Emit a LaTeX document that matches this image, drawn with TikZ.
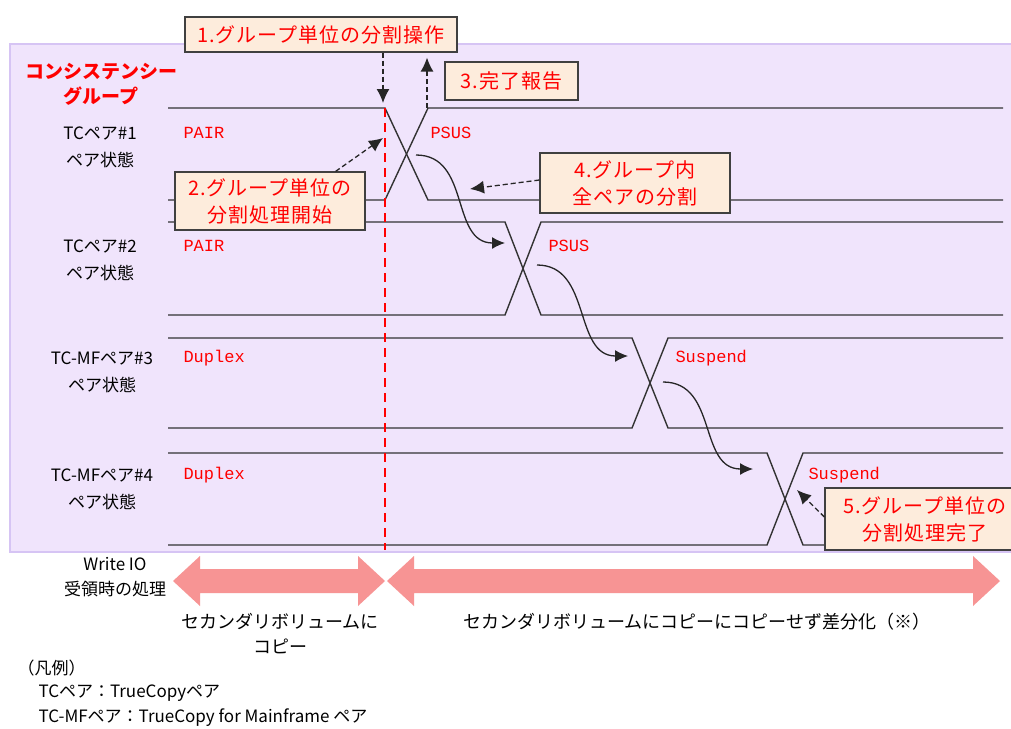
\documentclass[tikz,border=0pt]{standalone}
\usepackage{fontspec}
\setmainfont{Noto Sans CJK JP}
\newfontfamily\notefont{Noto Sans CJK JP}[LetterSpace=5]
\newfontfamily\statefont{Liberation Mono}
\usetikzlibrary{arrows.meta}
\definecolor{groupbg}{RGB}{240,228,252}
\definecolor{groupline}{RGB}{214,196,244}
\definecolor{notefill}{RGB}{253,236,220}
\definecolor{wayarrow}{RGB}{247,148,148}
\tikzset{
  note/.style={draw=black!75, line width=1.2pt, fill=notefill, text=red, align=center,
    font=\notefont\fontsize{20}{27}\selectfont, inner sep=0pt},
  pairline/.style={draw=black!80, line width=1.4pt},
  state/.style={anchor=west, text=red, font=\statefont\fontsize{17}{18}\selectfont},
  rowlabel/.style={align=center, font=\fontsize{17}{27}\selectfont},
  dasharrow/.style={draw=black!85, line width=1.3pt, dash pattern=on 5pt off 3pt,
    -{Latex[length=14pt,width=13pt]}},
  flow/.style={draw=black!85, line width=1.3pt, -{Latex[length=13pt,width=12pt]}}
}
\begin{document}
\begin{tikzpicture}[x=1pt,y=-1pt]
\useasboundingbox (0,0) rectangle (1011,728);
\fill[white] (0,0) rectangle (1011,728);
% consistency group area
\draw[groupline, fill=groupbg, line width=1.5pt] (10,44) rectangle (1030,552);
\node[align=center, text=red, font=\bfseries\fontsize{19}{25}\selectfont] (group) at (101,84) {コンシステンシー\\グループ};
% pair states
\foreach \ytop/\ybot/\xa/\xb in {108/200/385/428, 222/315/505/541, 338/428/632/668, 453/545/767/803}{
  \draw[pairline] (168,\ytop) -- (\xa,\ytop) -- (\xb,\ybot) -- (1003,\ybot);
  \draw[pairline] (168,\ybot) -- (\xa,\ybot) -- (\xb,\ytop) -- (1003,\ytop);
}
\node[rowlabel] (row1) at (100,147) {TCペア\#1\\ペア状態};
\node[rowlabel] (row2) at (100,260) {TCペア\#2\\ペア状態};
\node[rowlabel] (row3) at (102,372) {TC-MFペア\#3\\ペア状態};
\node[rowlabel] (row4) at (102,489) {TC-MFペア\#4\\ペア状態};
\node[state] (s1a) at (180,133) {PAIR};
\node[state] (s1b) at (427,133) {PSUS};
\node[state] (s2a) at (180,246) {PAIR};
\node[state] (s2b) at (545,246) {PSUS};
\node[state] (s3a) at (180,358) {Duplex};
\node[state] (s3b) at (672,358) {Suspend};
\node[state] (s4a) at (180,475) {Duplex};
\node[state] (s4b) at (805,475) {Suspend};
% split point
\draw[red, line width=1.5pt, dash pattern=on 9pt off 6pt] (385,108) -- (385,550);
% split goes from pair to pair
\coordinate (f1) at (416,155);
\coordinate (f2) at (505,243);
\coordinate (g2) at (537,265);
\coordinate (f3) at (628,356);
\coordinate (g3) at (663,382);
\coordinate (f4) at (753,469);
\foreach \a/\b in {f1/f2, g2/f3, g3/f4}
  \draw[flow] (\a) .. controls +(55,0) and +(-55,0) .. (\b);
% notes
\node[note, minimum width=272pt, minimum height=35pt] (splitop) at (321,34.5) {1.グループ単位の分割操作};
\node[note, minimum width=133pt, minimum height=38pt] (report) at (511.5,81) {3.完了報告};
\node[note, minimum width=190pt, minimum height=58pt] (splitstart) at (270,201) {2.グループ単位の\\分割処理開始};
\node[note, minimum width=190pt, minimum height=60pt] (allsplit) at (635,183) {4.グループ内\\全ペアの分割};
\node[note, minimum width=200pt, minimum height=62pt] (splitend) at (925,519) {5.グループ単位の\\分割処理完了};
\coordinate (t1) at (383,103);
\coordinate (r1) at (427,108);
\coordinate (t2) at (383,138);
\coordinate (t4) at (470,189);
\coordinate (t5) at (797,490);
\draw[dasharrow] (splitop.south -| t1) -- (t1);
\draw[dasharrow, shorten >=5pt] (r1) -- (r1 |- splitop.south);
\draw[dasharrow] ([xshift=-30pt]splitstart.north east) -- (t2);
\draw[dasharrow] ([yshift=3pt]allsplit.west) -- (t4);
\draw[dasharrow] ([yshift=2pt]splitend.west) -- (t5);
% write io handling
\foreach \a/\b in {173/385, 387/1000}
  \fill[wayarrow] (\a,581) -- (\a+27,556) -- (\a+27,569) -- (\b-27,569) -- (\b-27,556)
    -- (\b,581) -- (\b-27,606) -- (\b-27,593) -- (\a+27,593) -- (\a+27,606) -- cycle;
\node[align=center, font=\fontsize{17}{25}\selectfont] (writeio) at (115,577) {Write IO\\受領時の処理};
\node[align=center, font=\fontsize{18}{25}\selectfont] (copy) at (280,634) {セカンダリボリュームに\\コピー};
\node[font=\fontsize{18}{25}\selectfont] (diff) at (697,622) {セカンダリボリュームにコピーにコピーせず差分化（※）};
% legend
\node[anchor=west, font=\fontsize{17}{20}\selectfont] (legend) at (14,668) {（凡例）};
\node[anchor=west, font=\fontsize{17}{20}\selectfont] (tc) at (35,693) {TCペア：TrueCopyペア};
\node[anchor=west, font=\fontsize{17}{20}\selectfont] (tcmf) at (35,718) {TC-MFペア：TrueCopy for Mainframe ペア};
\end{tikzpicture}
\end{document}
